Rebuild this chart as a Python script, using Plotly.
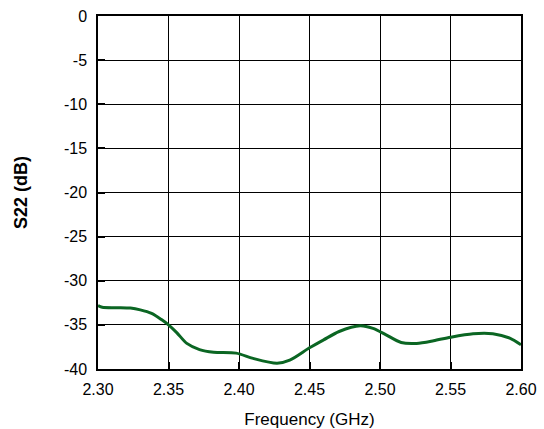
import plotly.graph_objects as go

freq = [2.300, 2.303, 2.313, 2.323, 2.330, 2.338, 2.345, 2.350, 2.356, 2.363, 2.372,
        2.382, 2.398, 2.410, 2.427, 2.436, 2.450, 2.460, 2.471, 2.486, 2.495, 2.504,
        2.515, 2.526, 2.538, 2.550, 2.566, 2.580, 2.592, 2.600]
s22 = [-32.8, -33.0, -33.05, -33.1, -33.3, -33.7, -34.4, -35.0, -35.9, -37.1, -37.8,
       -38.1, -38.2, -38.8, -39.35, -39.0, -37.6, -36.7, -35.75, -35.1, -35.4, -36.1,
       -37.0, -37.1, -36.8, -36.4, -36.0, -36.0, -36.5, -37.25]

xticks = [2.30, 2.35, 2.40, 2.45, 2.50, 2.55, 2.60]
yticks = [0, -5, -10, -15, -20, -25, -30, -35, -40]

fig = go.Figure()
fig.add_trace(go.Scatter(x=freq, y=s22, mode="lines",
                         line=dict(color="#0b6623", width=3, shape="spline", smoothing=0.8),
                         showlegend=False))

font = dict(family="Liberation Sans, Arial, sans-serif", size=16, color="black")
fig.update_layout(
    width=544, height=429,
    margin=dict(l=98, r=23, t=16, b=60),
    paper_bgcolor="white", plot_bgcolor="white",
    font=font,
    xaxis=dict(range=[2.30, 2.60], tickvals=xticks, ticktext=[f"{v:.2f}" for v in xticks],
               showgrid=True, gridcolor="black", gridwidth=1, automargin=False,
               showline=True, linecolor="black", linewidth=1.5, mirror=True,
               ticks="inside", ticklen=7, tickwidth=2, tickcolor="black", zeroline=False,
               tickfont=dict(size=16), ticklabelstandoff=5,
               title=dict(text="Frequency (GHz)", font=dict(size=17), standoff=18)),
    yaxis=dict(range=[-40, 0], tickvals=yticks, ticktext=[str(v) for v in yticks],
               showgrid=True, gridcolor="black", gridwidth=1, automargin=False,
               showline=True, linecolor="black", linewidth=1.5, mirror=True,
               ticks="inside", ticklen=7, tickwidth=2, tickcolor="black", zeroline=False,
               tickfont=dict(size=16), ticklabelstandoff=6,
               title=dict(text="<b>S22 (dB)</b>", font=dict(size=18), standoff=32)),
)

fig.write_html("out.html")
